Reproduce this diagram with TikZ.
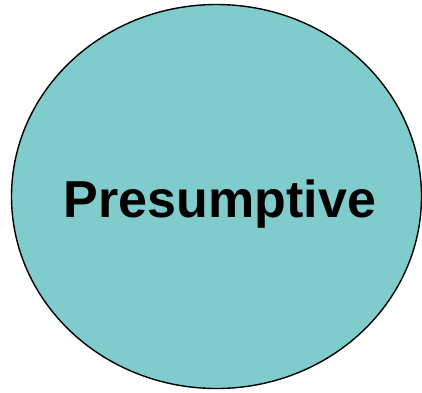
\documentclass[tikz,border=0pt]{standalone}
\usepackage{fontspec}
\setmainfont{Liberation Sans}
\definecolor{tealfill}{HTML}{80CCCC}
\usetikzlibrary{shapes.geometric}
\tikzset{blob/.style={ellipse, draw=black, line width=1.4pt, fill=tealfill, minimum width=410pt, minimum height=384pt, inner sep=0pt},
label/.style={font=\fontsize{52}{60}\selectfont\bfseries, anchor=base, inner sep=0pt}}
\begin{document}
\begin{tikzpicture}[x=1pt,y=-1pt]
\useasboundingbox (0,0) rectangle (422,392);
\node[blob] (e) at (216.5,196.5) {};
\node[label] (t) at (220,217.5) {Presumptive};
\end{tikzpicture}
\end{document}
